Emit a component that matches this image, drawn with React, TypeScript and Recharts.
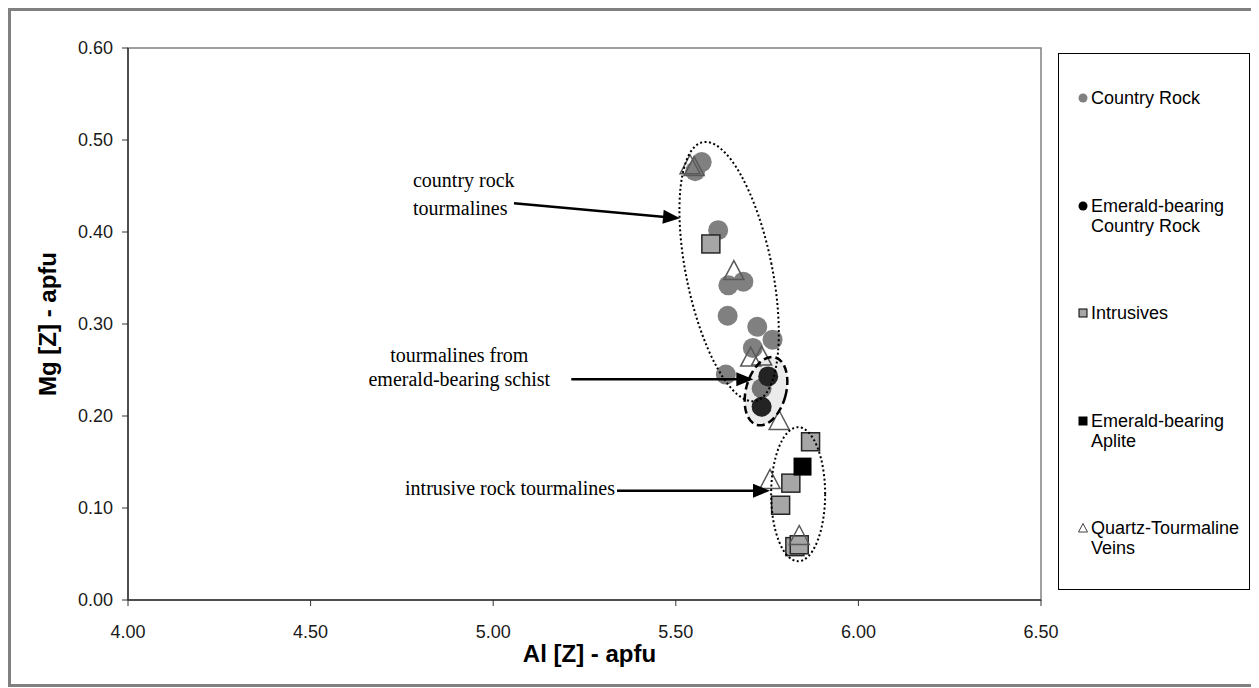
import React from "react"
import { ScatterChart, Scatter, XAxis, YAxis, ReferenceArea, ReferenceDot } from "recharts"

// Al [Z] (x) vs Mg [Z] (y), apfu, one pair of arrays per rock type
const countryRockAl = [5.571, 5.553, 5.616, 5.644, 5.685, 5.642, 5.723, 5.765, 5.711, 5.637, 5.735]
const countryRockMg = [0.476, 0.466, 0.402, 0.342, 0.346, 0.309, 0.297, 0.283, 0.274, 0.245, 0.23]
const emeraldRockAl = [5.753, 5.735]
const emeraldRockMg = [0.243, 0.21]
const intrusivesAl = [5.596, 5.869, 5.815, 5.787, 5.826, 5.838]
const intrusivesMg = [0.387, 0.172, 0.127, 0.103, 0.058, 0.06]
const apliteAl = [5.847]
const apliteMg = [0.145]
const veinsAl = [5.539, 5.55, 5.659, 5.705, 5.735, 5.783, 5.758, 5.838]
const veinsMg = [0.472, 0.47, 0.357, 0.263, 0.264, 0.194, 0.13, 0.069]

const alTicks = [4, 4.5, 5, 5.5, 6, 6.5]
const mgTicks = [0, 0.1, 0.2, 0.3, 0.4, 0.5, 0.6]
const seriesNames = [
    "Country Rock",
    "Emerald-bearing Country Rock",
    "Intrusives",
    "Emerald-bearing Aplite",
    "Quartz-Tourmaline Veins",
]

const toPoints = (xs: number[], ys: number[]) => xs.map((x, i) => ({ x, y: ys[i] }))

const SANS = "Arial, 'Liberation Sans', sans-serif"
const SERIF = "'Times New Roman', 'Liberation Serif', serif"

// marker shapes
const GrayCircle = (p: any) => <circle cx={p.cx} cy={p.cy} r={10} fill="#808080" />
const DarkCircle = (p: any) => <circle cx={p.cx} cy={p.cy} r={10} fill="#262626" />
const GraySquare = (p: any) => (
    <rect x={p.cx - 9} y={p.cy - 9} width={18} height={18} fill="#a6a6a6" stroke="#262626" strokeWidth={1.5} />
)
const BlackSquare = (p: any) => <rect x={p.cx - 9} y={p.cy - 9} width={18} height={18} fill="#000" />
const Triangle = (p: any) => (
    <polygon
        points={`${p.cx},${p.cy - 11} ${p.cx + 10},${p.cy + 8} ${p.cx - 10},${p.cy + 8}`}
        fill="none"
        stroke="#595959"
        strokeWidth={1.5}
    />
)

function ellipseShape(rx: number, ry: number, rot: number, dash: string, width: number, fill: string) {
    return (p: any) => (
        <ellipse
            cx={p.cx}
            cy={p.cy}
            rx={rx}
            ry={ry}
            transform={`rotate(${rot} ${p.cx} ${p.cy})`}
            fill={fill}
            stroke="#000"
            strokeWidth={width}
            strokeDasharray={dash}
        />
    )
}

// arrow pointing at (cx, cy), with its caption to the left
function arrowShape(tail: [number, number], lines: string[], textDx: number, textDy: number[], anchor: "start" | "middle" | "end") {
    return (p: any) => {
        const x2 = p.cx
        const y2 = p.cy
        const x1 = x2 + tail[0]
        const y1 = y2 + tail[1]
        const len = Math.hypot(x2 - x1, y2 - y1)
        const ux = (x2 - x1) / len
        const uy = (y2 - y1) / len
        const hl = 17
        const hw = 7
        const bx = x2 - ux * hl
        const by = y2 - uy * hl
        return (
            <g>
                <line x1={x1} y1={y1} x2={bx + ux * 2} y2={by + uy * 2} stroke="#000" strokeWidth={2.5} />
                <polygon points={`${x2},${y2} ${bx - uy * hw},${by + ux * hw} ${bx + uy * hw},${by - ux * hw}`} fill="#000" />
                {lines.map((t, i) => (
                    <text key={i} x={x2 + textDx} y={y2 + textDy[i]} textAnchor={anchor} fontFamily={SERIF} fontSize={20} fill="#000">
                        {t}
                    </text>
                ))}
            </g>
        )
    }
}

function LegendMarker({ i }: { i: number }) {
    return (
        <svg width={12} height={12} style={{ position: "absolute", left: 18, top: 4 }}>
            {i === 0 && <circle cx={6} cy={6} r={4.5} fill="#808080" />}
            {i === 1 && <circle cx={6} cy={6} r={4.5} fill="#000" />}
            {i === 2 && <rect x={2} y={2} width={8} height={8} fill="#a6a6a6" stroke="#000" strokeWidth={1} />}
            {i === 3 && <rect x={1.5} y={1.5} width={9} height={9} fill="#000" />}
            {i === 4 && <polygon points="6,1.5 10.5,10 1.5,10" fill="none" stroke="#404040" strokeWidth={1} />}
        </svg>
    )
}

export default function App() {
    const tick = { fill: "#1a1a1a", fontSize: 18, fontFamily: SANS }
    return (
        <div
            style={{
                position: "relative",
                width: 1249,
                height: 679,
                border: "3px solid #808080",
                boxSizing: "border-box",
                background: "#fff",
            }}
        >
            <ScatterChart width={1243} height={673} margin={{ top: 37, right: 213, bottom: 24, left: 37 }}>
                <ReferenceArea x1={4} x2={6.5} y1={0} y2={0.6} fill="none" stroke="#808080" strokeWidth={1.5} />
                <XAxis
                    type="number"
                    dataKey="x"
                    domain={[4, 6.5]}
                    ticks={alTicks}
                    tickFormatter={(v) => Number(v).toFixed(2)}
                    height={60}
                    tickSize={6}
                    tickMargin={19}
                    tick={tick}
                    axisLine={{ stroke: "#333", strokeWidth: 1.5 }}
                    tickLine={{ stroke: "#333" }}
                    label={{
                        value: "Al [Z] - apfu",
                        position: "insideBottom",
                        offset: -2,
                        dx: 5,
                        style: { fontFamily: SANS, fontSize: 24, fontWeight: "bold", fill: "#000" },
                    }}
                />
                <YAxis
                    type="number"
                    dataKey="y"
                    domain={[0, 0.6]}
                    ticks={mgTicks}
                    tickFormatter={(v) => Number(v).toFixed(2)}
                    width={80}
                    tickSize={6}
                    tickMargin={9}
                    tick={tick}
                    axisLine={{ stroke: "#333", strokeWidth: 1.5 }}
                    tickLine={{ stroke: "#333" }}
                    label={{
                        value: "Mg [Z] - apfu",
                        angle: -90,
                        position: "insideLeft",
                        offset: -1,
                        style: { textAnchor: "middle", fontFamily: SANS, fontSize: 24, fontWeight: "bold", fill: "#000" },
                    }}
                />

                <Scatter name={seriesNames[0]} data={toPoints(countryRockAl, countryRockMg)} shape={GrayCircle} isAnimationActive={false} />
                <Scatter name={seriesNames[1]} data={toPoints(emeraldRockAl, emeraldRockMg)} shape={DarkCircle} isAnimationActive={false} />
                <Scatter name={seriesNames[2]} data={toPoints(intrusivesAl, intrusivesMg)} shape={GraySquare} isAnimationActive={false} />
                <Scatter name={seriesNames[3]} data={toPoints(apliteAl, apliteMg)} shape={BlackSquare} isAnimationActive={false} />
                <Scatter name={seriesNames[4]} data={toPoints(veinsAl, veinsMg)} shape={Triangle} isAnimationActive={false} />

                {/* groupings */}
                <ReferenceDot x={5.646} y={0.357} r={0} shape={ellipseShape(43, 132, -11.5, "2 2.5", 2, "none")} />
                <ReferenceDot x={5.747} y={0.227} r={0} shape={ellipseShape(20, 35, 15, "8 4", 2.5, "rgba(0,0,0,0.08)")} />
                <ReferenceDot x={5.835} y={0.115} r={0} shape={ellipseShape(27, 67, 0, "2 2.5", 2, "none")} />

                {/* callouts */}
                <ReferenceDot
                    x={5.5115}
                    y={0.4149}
                    r={0}
                    shape={arrowShape([-166, -15], ["country rock", "tourmalines"], -267, [-31, -3], "start")}
                />
                <ReferenceDot
                    x={5.7122}
                    y={0.2399}
                    r={0}
                    shape={arrowShape([-182, 0], ["tourmalines from", "emerald-bearing schist"], -294, [-17, 7], "middle")}
                />
                <ReferenceDot
                    x={5.7579}
                    y={0.1188}
                    r={0}
                    shape={arrowShape([-153, 0], ["intrusive rock tourmalines"], -155, [4], "end")}
                />
            </ScatterChart>

            {/* legend */}
            <div
                style={{
                    position: "absolute",
                    left: 1047,
                    top: 42,
                    width: 192,
                    height: 537,
                    border: "1px solid #000",
                    boxSizing: "border-box",
                    fontFamily: SANS,
                    fontSize: 18,
                    lineHeight: "20px",
                    color: "#000",
                }}
            >
                {seriesNames.map((name, i) => (
                    <div key={name} style={{ position: "absolute", left: 0, top: 34 + i * 107.5, width: 190 }}>
                        <LegendMarker i={i} />
                        <div style={{ marginLeft: 32, width: 158 }}>{name}</div>
                    </div>
                ))}
            </div>
        </div>
    )
}
